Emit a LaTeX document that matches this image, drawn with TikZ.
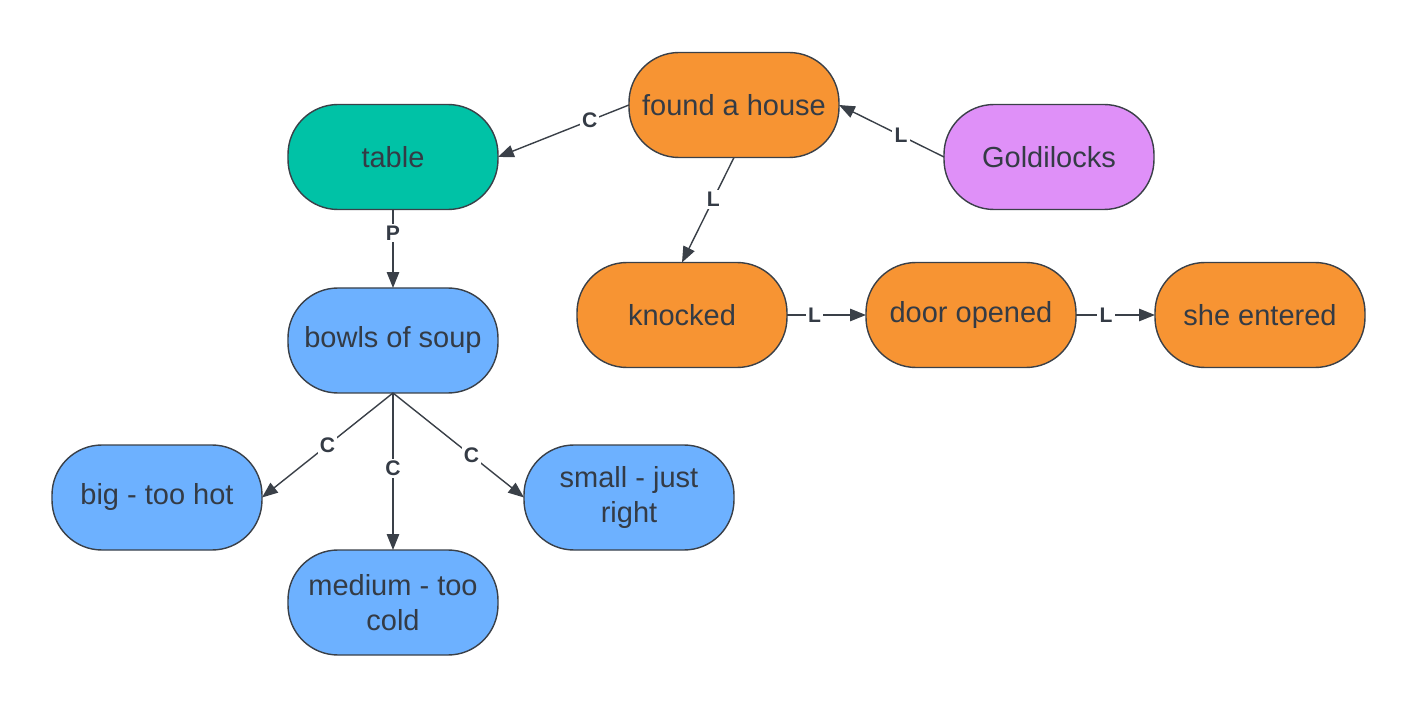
\documentclass[tikz,border=0pt]{standalone}
\usepackage{fontspec}
\setmainfont{Liberation Sans}
\usetikzlibrary{arrows.meta, positioning}
\definecolor{boxline}{HTML}{3A4048}
\definecolor{boxtext}{HTML}{343B45}
\definecolor{storyorange}{HTML}{F79433}
\definecolor{tableteal}{HTML}{00C2A6}
\definecolor{heroviolet}{HTML}{DF90F8}
\definecolor{soupblue}{HTML}{6DB1FF}

\begin{document}
\begin{tikzpicture}[
    node distance=1.57cm and 1.58cm,
    concept/.style={draw=boxline, line width=0.8pt, rounded corners=1cm, outer sep=0pt,
      minimum width=4.2cm, minimum height=2.1cm, align=center, text=boxtext,
      font=\fontsize{16.5}{19.5}\selectfont},
    lbl/.style={fill=white, inner sep=1.2pt, text=boxtext,
      font=\bfseries\fontsize{12}{13}\selectfont},
    >={Triangle[length=9pt, width=7pt]},
    link/.style={draw=boxline, line width=0.8pt, ->}
    ]
    \useasboundingbox (-7.86,3.14) rectangle (20.48,-11.04);

    % Nodes
    \node[concept, fill=tableteal] (table) {table};
    \node[concept, fill=storyorange] (found) [right=2.62cm of table, yshift=1.04cm] {found a house};
    \node[concept, fill=heroviolet] (goldilocks) [right=2.1cm of found, yshift=-1.04cm] {Goldilocks};
    \node[concept, fill=storyorange] (knocked) [below=2.1cm of found, xshift=-1.04cm] {knocked};
    \node[concept, fill=storyorange] (door) [right=of knocked] {door opened};
    \node[concept, fill=storyorange] (entered) [right=of door] {she entered};

    \node[concept, fill=soupblue] (bowls) [below=of table] {bowls of soup};
    \node[concept, fill=soupblue] (big) [below=1.04cm of bowls, xshift=-4.72cm] {big - too hot};
    \node[concept, fill=soupblue] (small) [below=1.04cm of bowls, xshift=4.72cm] {small - just\\right};
    \node[concept, fill=soupblue] (medium) [below=3.14cm of bowls] {medium - too\\cold};

    % Edges
    \draw[link] (found.west) -- node[lbl, pos=0.3] {C} (table.east);
    \draw[link] (goldilocks.west) -- node[lbl, pos=0.41] {L} (found.east);
    \draw[link] (found.south) -- node[lbl, pos=0.4] {L} (knocked.north);
    \draw[link] (knocked) -- node[lbl, pos=0.35] {L} (door);
    \draw[link] (door) -- node[lbl, pos=0.38] {L} (entered);

    \draw[link] (table) -- node[lbl, pos=0.3] {P} (bowls);
    \draw[link] (bowls.south) -- node[lbl, pos=0.5] {C} (big.east);
    \draw[link] (bowls.south) -- node[lbl, pos=0.48] {C} (medium.north);
    \draw[link] (bowls.south) -- node[lbl, pos=0.6] {C} (small.west);

  \end{tikzpicture}
\end{document}
